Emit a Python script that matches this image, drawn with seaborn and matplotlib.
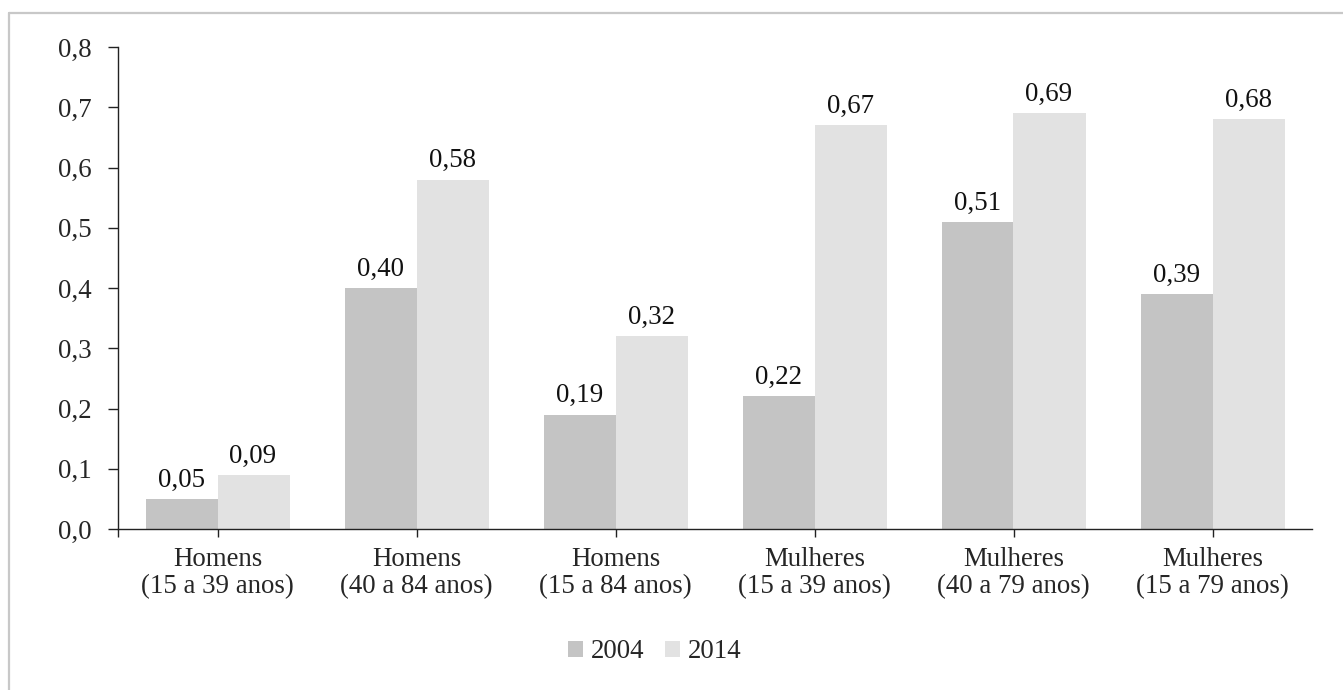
import matplotlib
matplotlib.use("Agg")
import matplotlib.pyplot as plt
from matplotlib.lines import Line2D
import seaborn as sns
import pandas as pd

categories = ["Homens\n(15 a 39 anos)", "Homens\n(40 a 84 anos)", "Homens\n(15 a 84 anos)",
              "Mulheres\n(15 a 39 anos)", "Mulheres\n(40 a 79 anos)", "Mulheres\n(15 a 79 anos)"]
series_names = ["2004", "2014"]
values_2004 = [0.05, 0.40, 0.19, 0.22, 0.51, 0.39]
values_2014 = [0.09, 0.58, 0.32, 0.67, 0.69, 0.68]
ytick_values = [0.0, 0.1, 0.2, 0.3, 0.4, 0.5, 0.6, 0.7, 0.8]
colors = ["#c4c4c4", "#e2e2e2"]

df = pd.DataFrame({
    "cat": categories * 2,
    "ano": [series_names[0]] * 6 + [series_names[1]] * 6,
    "val": values_2004 + values_2014,
})

sns.set_style("white")
plt.rcParams["font.family"] = ["Liberation Serif", "DejaVu Serif"]
FS = 19.4

fig = plt.figure(figsize=(13.43, 6.9), dpi=100)
ax = fig.add_axes([118/1343, 1-529/690, (1312-118)/1343, (529-47)/690])

sns.barplot(data=df, x="cat", y="val", hue="ano", palette=colors, width=0.714,
            dodge=True, gap=0, saturation=1, ax=ax, legend=True, errorbar=None,
            linewidth=0, edgecolor="none")

for c in ax.containers:
    for p in c.patches:
        p.set_edgecolor(p.get_facecolor())
        p.set_linewidth(0.6)
        p.set_antialiased(False)
    ax.bar_label(c, labels=[f"{v:.2f}".replace(".", ",") for v in c.datavalues],
                 padding=4.5, fontsize=FS, color="#111111")

ax.set_xlim(-0.5, 5.5)
ax.set_ylim(0, 0.8)
ax.set_yticks(ytick_values)
ax.set_yticklabels([f"{v:.1f}".replace(".", ",") for v in ytick_values], fontsize=FS)
ax.set_xticks(range(len(categories)))
ax.set_xticklabels(categories, fontsize=FS, linespacing=1.12)
ax.set_xticks([-0.5], minor=True)
ax.set_xlabel("")
ax.set_ylabel("")

for s in ["top", "right"]:
    ax.spines[s].set_visible(False)
for s in ["left", "bottom"]:
    ax.spines[s].set_color("#222222")
    ax.spines[s].set_linewidth(1.0)
    ax.spines[s].set_zorder(5)

ax.tick_params(axis="y", which="major", length=7, width=1.0, color="#222222", pad=12, left=True)
ax.tick_params(axis="x", which="both", length=6, width=1.0, color="#222222", pad=7, bottom=True)
ax.tick_params(axis="x", which="minor", labelbottom=False)

handles, labels = ax.get_legend_handles_labels()
ax.legend_.remove()
fig.legend(handles, labels, loc="center", bbox_to_anchor=(655/1343, 1-652/690), ncol=2,
           frameon=False, fontsize=FS, handlelength=0.55, handleheight=0.55,
           handletextpad=0.3, columnspacing=0.75)

# figure border (top and left only)
fig.add_artist(Line2D([8.5/1343, 1.0], [1-12.5/690, 1-12.5/690], transform=fig.transFigure,
                      color="#c8c8c8", linewidth=1.6))
fig.add_artist(Line2D([8.5/1343, 8.5/1343], [0.0, 1-12.5/690], transform=fig.transFigure,
                      color="#c8c8c8", linewidth=1.6))

fig.savefig("out.png", dpi=100)
